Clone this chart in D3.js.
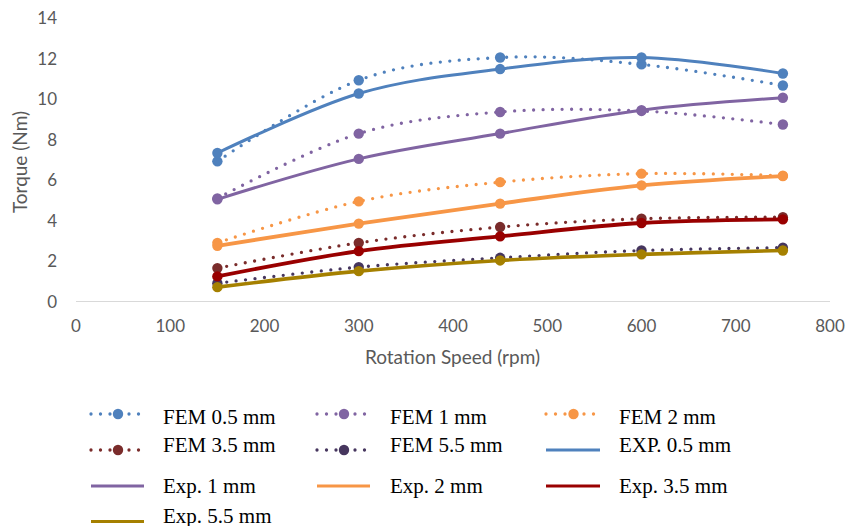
<!DOCTYPE html>
<html>
<head>
<meta charset="utf-8">
<script src="https://cdn.jsdelivr.net/npm/d3@7"></script>
<style>
  body { margin: 0; background: #fff; }
  .tick-label { font-family: Lato, "Open Sans", sans-serif; fill: #595959; }
  .axis-title { font-family: Lato, "Open Sans", sans-serif; fill: #595959; }
  .legend-text { font-family: "Liberation Serif", "Times New Roman", serif; fill: #000; }
</style>
</head>
<body>
<div id="chart"></div>
<script>
// rotation speeds (rpm)
var speeds = [150, 300, 450, 600, 750];

// FEM results (Nm)
var fem05 = [6.93, 10.94, 12.06, 11.72, 10.68];
var fem1  = [5.10, 8.30, 9.37, 9.42, 8.75];
var fem2  = [2.90, 4.95, 5.90, 6.32, 6.22];
var fem35 = [1.65, 2.90, 3.68, 4.09, 4.17];
var fem55 = [0.90, 1.70, 2.16, 2.52, 2.66];

// measured results (Nm)
var exp05 = [7.34, 10.28, 11.49, 12.06, 11.27];
var exp1  = [5.05, 7.05, 8.30, 9.46, 10.07];
var exp2  = [2.75, 3.85, 4.84, 5.74, 6.20];
var exp35 = [1.24, 2.49, 3.22, 3.88, 4.06];
var exp55 = [0.71, 1.50, 2.03, 2.33, 2.52];

var xTicks = [0, 100, 200, 300, 400, 500, 600, 700, 800];
var yTicks = [0, 2, 4, 6, 8, 10, 12, 14];

var seriesNames = ["FEM 0.5 mm", "FEM 1 mm", "FEM 2 mm", "FEM 3.5 mm", "FEM 5.5 mm",
                   "EXP. 0.5 mm", "Exp. 1 mm", "Exp. 2 mm", "Exp. 3.5 mm", "Exp. 5.5 mm"];
var seriesValues = [fem05, fem1, fem2, fem35, fem55, exp05, exp1, exp2, exp35, exp55];
var seriesColors = ["#4f81bd", "#8064a2", "#f79646", "#7a2c2b", "#46365e",
                    "#4f81bd", "#8064a2", "#f79646", "#990000", "#a58000"];
var seriesDotted = [true, true, true, true, true, false, false, false, false, false];
var seriesWidths = [3.3, 3.3, 3.3, 3.3, 3.3, 3, 3, 3.8, 3.8, 3.6];

var width = 847, height = 526;

// plot area
var x = d3.scaleLinear().domain([0, 800]).range([76, 830]);
var y = d3.scaleLinear().domain([0, 14]).range([301.5, 18.3]);

var svg = d3.select("#chart").append("svg")
    .attr("width", width)
    .attr("height", height);

// x axis line
svg.append("line")
    .attr("x1", x(0)).attr("x2", x(800))
    .attr("y1", y(0)).attr("y2", y(0))
    .attr("stroke", "#d9d9d9")
    .attr("stroke-width", 1);

// tick labels
svg.selectAll(".xtick")
    .data(xTicks)
  .enter().append("text")
    .attr("class", "tick-label")
    .attr("x", function(d) { return x(d); })
    .attr("y", 332)
    .attr("text-anchor", "middle")
    .attr("font-size", 17)
    .text(function(d) { return d; });

svg.selectAll(".ytick")
    .data(yTicks)
  .enter().append("text")
    .attr("class", "tick-label")
    .attr("x", 57)
    .attr("y", function(d) { return y(d) + 6; })
    .attr("text-anchor", "end")
    .attr("font-size", 17)
    .text(function(d) { return d; });

// axis titles
svg.append("text")
    .attr("class", "axis-title")
    .attr("x", 452.5)
    .attr("y", 364)
    .attr("text-anchor", "middle")
    .attr("font-size", 19)
    .text("Rotation Speed (rpm)");

svg.append("text")
    .attr("class", "axis-title")
    .attr("transform", "translate(27,162)rotate(-90)")
    .attr("text-anchor", "middle")
    .attr("font-size", 19)
    .text("Torque (Nm)");

// smoothed lines like the spreadsheet
var line = d3.line()
    .x(function(d, i) { return x(speeds[i]); })
    .y(function(d) { return y(d); })
    .curve(d3.curveCardinal);

var series = seriesValues.map(function(v, i) {
  return { name: seriesNames[i], values: v, color: seriesColors[i],
           dotted: seriesDotted[i], width: seriesWidths[i] };
});

var groups = svg.selectAll(".series")
    .data(series)
  .enter().append("g")
    .attr("class", "series");

groups.append("path")
    .attr("d", function(d) { return line(d.values); })
    .attr("fill", "none")
    .attr("stroke", function(d) { return d.color; })
    .attr("stroke-width", function(d) { return d.width; })
    .attr("stroke-linecap", function(d) { return d.dotted ? "round" : "butt"; })
    .attr("stroke-dasharray", function(d) { return d.dotted ? "0 9.5" : null; });

groups.selectAll("circle")
    .data(function(d) { return d.values.map(function(v, i) { return { v: v, i: i, color: d.color }; }); })
  .enter().append("circle")
    .attr("cx", function(d) { return x(speeds[d.i]); })
    .attr("cy", function(d) { return y(d.v); })
    .attr("r", 5.2)
    .attr("fill", function(d) { return d.color; });

// legend: 3 columns, FEM entries carry the marker, Exp entries are plain lines
var legCols = [{ x0: 91, x1: 144, tx: 163 }, { x0: 317, x1: 370, tx: 390 }, { x0: 546, x1: 600, tx: 619 }];
var legRows = [{ ly: 414, ty: 423.5 }, { ly: 450, ty: 452 }, { ly: 486, ty: 493 }, { ly: 521.5, ty: 522.5 }];

var legend = svg.selectAll(".legend")
    .data(series)
  .enter().append("g")
    .attr("class", "legend")
    .attr("transform", function(d, i) {
      var c = legCols[i % 3], r = legRows[Math.floor(i / 3)];
      return "translate(0," + r.ly + ")";
    });

legend.append("line")
    .attr("x1", function(d, i) { return legCols[i % 3].x0; })
    .attr("x2", function(d, i) { return legCols[i % 3].x1; })
    .attr("stroke", function(d) { return d.color; })
    .attr("stroke-width", function(d) { return d.dotted ? 3.3 : 3; })
    .attr("stroke-linecap", function(d) { return d.dotted ? "round" : "butt"; })
    .attr("stroke-dasharray", function(d) { return d.dotted ? "0 9.5" : null; });

legend.filter(function(d) { return d.dotted; }).append("circle")
    .attr("cx", function(d, i) { return (legCols[i % 3].x0 + legCols[i % 3].x1) / 2 + 0.5; })
    .attr("r", 5.2)
    .attr("fill", function(d) { return d.color; });

legend.append("text")
    .attr("class", "legend-text")
    .attr("x", function(d, i) { return legCols[i % 3].tx; })
    .attr("y", function(d, i) { var r = legRows[Math.floor(i / 3)]; return r.ty - r.ly; })
    .attr("font-size", 21)
    .text(function(d) { return d.name; });
</script>
</body>
</html>
